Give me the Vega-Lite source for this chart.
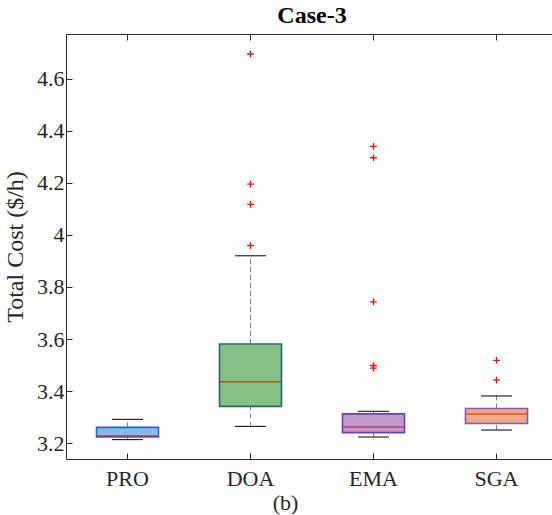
{
  "$schema": "https://vega.github.io/schema/vega-lite/v6.json",
  "width": 486,
  "height": 425,
  "autosize": {"type": "none"},
  "padding": {"left": 66, "top": 34, "right": 0, "bottom": 56},
  "background": "white",
  "config": {
    "view": {"stroke": null},
    "font": "Liberation Serif",
    "axis": {
      "domainColor": "#262626",
      "domainWidth": 1,
      "tickColor": "#262626",
      "tickWidth": 1,
      "labelColor": "#262626",
      "titleColor": "#262626",
      "labelFont": "Liberation Serif",
      "titleFont": "Liberation Serif",
      "labelFontSize": 22,
      "titleFontSize": 22,
      "titleFontWeight": "normal",
      "grid": false
    }
  },
  "title": {
    "text": "Case-3",
    "font": "Liberation Serif",
    "fontSize": 24,
    "fontWeight": "bold",
    "color": "black",
    "anchor": "middle",
    "offset": 6,
    "dx": 3
  },
  "datasets": {
    "boxes": [
      {"group": "PRO", "lower": 3.213, "q1": 3.223, "median": 3.227, "q3": 3.260, "upper": 3.291},
      {"group": "DOA", "lower": 3.264, "q1": 3.341, "median": 3.436, "q3": 3.581, "upper": 3.920},
      {"group": "EMA", "lower": 3.223, "q1": 3.240, "median": 3.262, "q3": 3.312, "upper": 3.322},
      {"group": "SGA", "lower": 3.250, "q1": 3.275, "median": 3.312, "q3": 3.333, "upper": 3.381}
    ],
    "outliers": [
      {"group": "DOA", "value": 4.696},
      {"group": "DOA", "value": 4.196},
      {"group": "DOA", "value": 4.118},
      {"group": "DOA", "value": 3.959},
      {"group": "EMA", "value": 4.341},
      {"group": "EMA", "value": 4.297},
      {"group": "EMA", "value": 3.743},
      {"group": "EMA", "value": 3.498},
      {"group": "EMA", "value": 3.488},
      {"group": "SGA", "value": 3.518},
      {"group": "SGA", "value": 3.442}
    ]
  },
  "resolve": {"axis": {"x": "independent"}},
  "layer": [
    {
      "data": {"name": "boxes"},
      "mark": {"type": "rule", "color": "#7f7f7f", "strokeDash": [5, 3], "strokeWidth": 1},
      "encoding": {
        "x": {
          "field": "group", "type": "nominal",
          "scale": {"type": "band", "domain": ["PRO", "DOA", "EMA", "SGA"], "range": [0, 492], "paddingInner": 0, "paddingOuter": 0},
          "axis": {"orient": "top", "labels": false, "title": null, "tickSize": -6, "domain": true}
        },
        "y": {
          "field": "q3", "type": "quantitative",
          "scale": {"domain": [3.1385, 4.773], "nice": false, "zero": false},
          "axis": {
            "orient": "left",
            "values": [3.2, 3.4, 3.6, 3.8, 4.0, 4.2, 4.4, 4.6],
            "format": ".2~f",
            "tickSize": -6,
            "labelPadding": 8,
            "title": "Total Cost ($/h)",
            "titleFontSize": 24,
            "titlePadding": 9
          }
        },
        "y2": {"field": "upper"}
      }
    },
    {
      "data": {"name": "boxes"},
      "mark": {"type": "rule", "color": "#7f7f7f", "strokeDash": [5, 3], "strokeWidth": 1},
      "encoding": {
        "x": {"field": "group", "type": "nominal", "axis": null},
        "y": {"field": "lower", "type": "quantitative"},
        "y2": {"field": "q1"}
      }
    },
    {
      "data": {"name": "boxes"},
      "mark": {"type": "tick", "color": "black", "size": 31, "thickness": 1, "opacity": 1},
      "encoding": {
        "x": {"field": "group", "type": "nominal", "axis": null},
        "y": {"field": "upper", "type": "quantitative"}
      }
    },
    {
      "data": {"name": "boxes"},
      "mark": {"type": "tick", "color": "black", "size": 31, "thickness": 1, "opacity": 1},
      "encoding": {
        "x": {"field": "group", "type": "nominal", "axis": null},
        "y": {"field": "lower", "type": "quantitative"}
      }
    },
    {
      "data": {"name": "boxes"},
      "mark": {"type": "bar", "width": 62, "strokeWidth": 1.6, "fillOpacity": 1},
      "encoding": {
        "x": {
          "field": "group", "type": "nominal",
          "axis": {"orient": "bottom", "labelAngle": 0, "tickSize": -6, "labelPadding": 15, "title": "(b)", "titleX": 219, "titlePadding": 3}
        },
        "y": {"field": "q1", "type": "quantitative"},
        "y2": {"field": "q3"},
        "fill": {
          "field": "group", "type": "nominal", "legend": null,
          "scale": {"domain": ["PRO", "DOA", "EMA", "SGA"], "range": ["#86bde6", "#84c184", "#c09bc8", "#eeaa8a"]}
        },
        "stroke": {
          "field": "group", "type": "nominal", "legend": null,
          "scale": {"domain": ["PRO", "DOA", "EMA", "SGA"], "range": ["#2a5fd6", "#2b6666", "#6a3ebd", "#8657b6"]}
        }
      }
    },
    {
      "data": {"name": "boxes"},
      "mark": {"type": "tick", "size": 61, "thickness": 1.5, "opacity": 1},
      "encoding": {
        "x": {"field": "group", "type": "nominal", "axis": null},
        "y": {"field": "median", "type": "quantitative"},
        "color": {
          "field": "group", "type": "nominal", "legend": null,
          "scale": {"domain": ["PRO", "DOA", "EMA", "SGA"], "range": ["#b0304a", "#b4510f", "#c03a7a", "#e84e26"]}
        }
      }
    },
    {
      "data": {"name": "outliers"},
      "mark": {"type": "point", "shape": "M-1,0L1,0M0,-1L0,1", "filled": false, "stroke": "#ff0000", "strokeWidth": 1.3, "size": 45, "opacity": 1},
      "encoding": {
        "x": {"field": "group", "type": "nominal", "axis": null},
        "y": {"field": "value", "type": "quantitative"}
      }
    }
  ]
}
